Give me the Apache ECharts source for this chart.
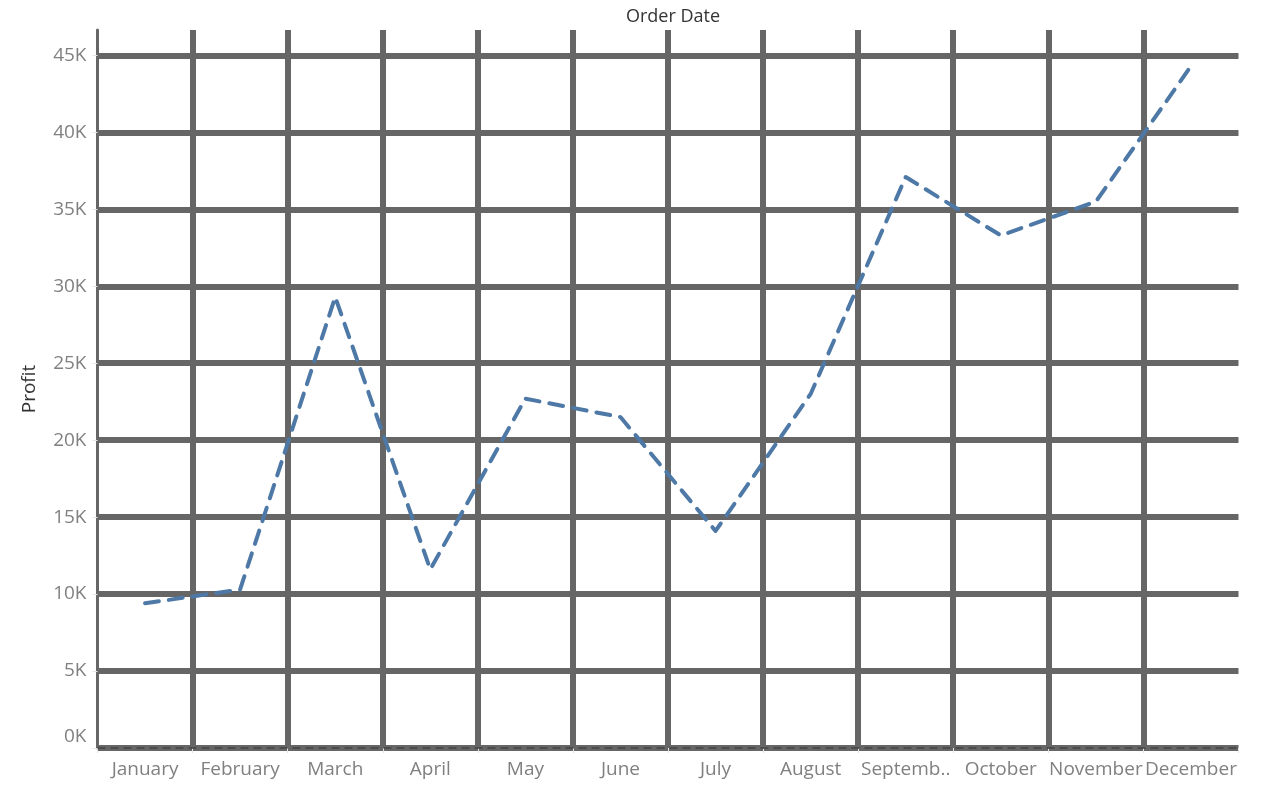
<!DOCTYPE html>
<html>
<head>
<meta charset="utf-8">
<script src="https://cdn.jsdelivr.net/npm/echarts@6/dist/echarts.min.js"></script>
<style>
html,body{margin:0;padding:0;background:#fff;}
#chart{width:1270px;height:787px;}
</style>
</head>
<body>
<div id="chart"></div>
<script>
const months = ["January","February","March","April","May","June","July","August","September","October","November","December"];
const monthLabels = ["January","February","March","April","May","June","July","August","Septemb..","October","November","December"];
const profit = [9400, 10300, 29300, 11600, 22700, 21500, 14100, 23000, 37100, 33300, 35500, 44300];
const yTicks = [0, 5000, 10000, 15000, 20000, 25000, 30000, 35000, 40000, 45000];

const chart = echarts.init(document.getElementById('chart'));
const font = '"Open Sans", sans-serif';
chart.setOption({
  animation: false,
  title: {
    text: 'Order Date',
    left: 668, top: 3, textAlign: 'center',
    textStyle: { fontFamily: font, fontSize: 18, fontWeight: 'normal', color: '#333' }
  },
  grid: { left: 97.5, right: 31.5, top: 30, bottom: 39 },
  xAxis: {
    type: 'category',
    data: months,
    boundaryGap: true,
    axisLine: { show: false },
    axisTick: { show: true, interval: 0, length: 5, lineStyle: { color: '#e2e2e2', width: 1 } },
    axisLabel: {
      interval: 0, hideOverlap: false,
      fontFamily: font, fontSize: 19, color: '#808080', margin: 12,
      formatter: (v, i) => monthLabels[i]
    },
    splitLine: { show: true, interval: 0, showMinLine: false, showMaxLine: false, lineStyle: { color: '#666666', width: 6 } }
  },
  yAxis: {
    type: 'value',
    min: 0, max: 46650, interval: 5000,
    name: 'Profit', nameLocation: 'middle', nameGap: 58, nameRotate: 90,
    nameTextStyle: { fontFamily: font, fontSize: 19, color: '#333' },
    axisLine: { show: true, lineStyle: { color: '#666666', width: 3 } },
    axisTick: { show: true, length: 5, lineStyle: { color: '#e6e6e6', width: 1 } },
    axisLabel: {
      fontFamily: font, fontSize: 19, color: '#808080', margin: 11,
      showMaxLabel: false,
      formatter: v => {
        if (yTicks.indexOf(v) < 0) return '';
        return v === 0 ? '{z|0K}' : (v / 1000) + 'K';
      },
      rich: { z: { fontFamily: font, fontSize: 19, color: '#808080', padding: [0, 0, 22, 0] } }
    },
    splitLine: { show: true, showMinLine: true, showMaxLine: false, lineStyle: { color: '#666666', width: 6 } }
  },
  series: [{
    type: 'line',
    data: profit,
    symbol: 'none',
    lineStyle: { color: '#4e79a7', width: 4, type: [14, 10], cap: 'round', join: 'round' },
    markLine: {
      silent: true, symbol: 'none', label: { show: false },
      lineStyle: { color: '#444', width: 1.5, type: [8, 5] },
      data: [{ yAxis: 0 }]
    },
    z: 5
  }]
});
</script>
</body>
</html>
